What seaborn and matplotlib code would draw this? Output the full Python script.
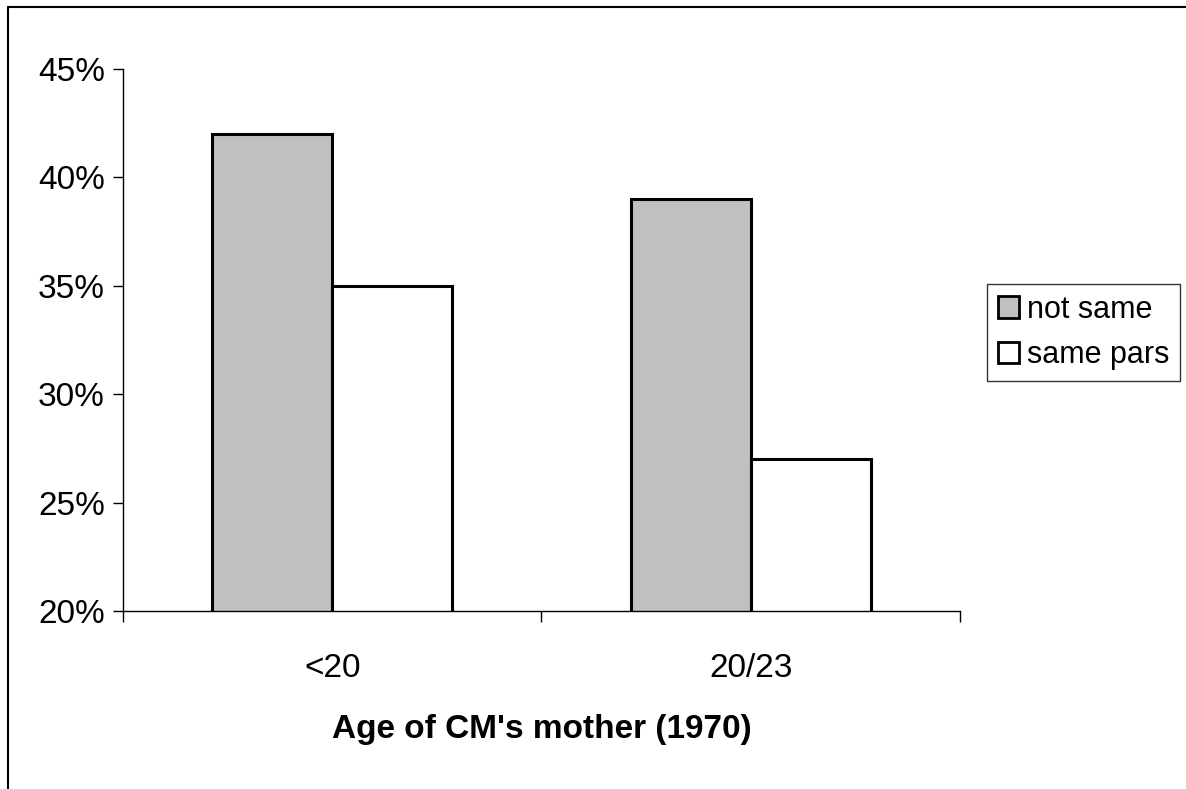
import matplotlib
matplotlib.use("Agg")
import matplotlib.pyplot as plt
from matplotlib.lines import Line2D
from matplotlib.ticker import FixedLocator, PercentFormatter
import seaborn as sns
import pandas as pd

# data
ages = ["<20", "20/23"]
groups = ["not same", "same pars"]
not_same = [42, 39]
same_pars = [35, 27]
yticks = [20, 25, 30, 35, 40, 45]

df = pd.DataFrame({
    "age": ages * 2,
    "group": [groups[0]] * len(ages) + [groups[1]] * len(ages),
    "pct": not_same + same_pars,
})

sns.set_style("white")
plt.rcParams["font.family"] = ["Liberation Sans", "DejaVu Sans"]
plt.rcParams["text.color"] = "black"
plt.rcParams["axes.labelcolor"] = "black"
plt.rcParams["xtick.color"] = "black"
plt.rcParams["ytick.color"] = "black"

fig = plt.figure(figsize=(11.86, 7.89), dpi=100)
ax = fig.add_axes([0.1037, 0.2256, 0.7057, 0.6869])

sns.barplot(
    data=df, x="age", y="pct", hue="group",
    palette=["#c0c0c0", "#ffffff"],
    edgecolor="black", linewidth=2.2,
    width=0.574, gap=0, ax=ax,
)

ax.set_ylim(20, 45)
ax.set_xlim(-0.5, 1.5)
ax.set_yticks(yticks)
ax.yaxis.set_major_formatter(PercentFormatter(decimals=0))
ax.tick_params(axis="y", labelsize=24, length=7, width=1, color="black",
               direction="out", left=True, pad=6)

# category labels on minor ticks, separator ticks on major
ax.xaxis.set_major_locator(FixedLocator([-0.5, 0.5, 1.5]))
ax.xaxis.set_minor_locator(FixedLocator([0, 1]))
ax.set_xticklabels([], minor=False)
ax.set_xticklabels(ages, minor=True)
ax.tick_params(axis="x", which="major", length=8, width=1, color="black",
               direction="out", bottom=True)
ax.tick_params(axis="x", which="minor", length=0, labelsize=24, pad=30)

for side in ["top", "right"]:
    ax.spines[side].set_visible(False)
for side in ["left", "bottom"]:
    ax.spines[side].set_color("black")
    ax.spines[side].set_linewidth(1)

ax.set_ylabel("")
ax.set_xlabel("Age of CM's mother (1970)", fontsize=24, fontweight="bold",
              labelpad=22)

leg = ax.legend(
    loc="upper left", bbox_to_anchor=(987 / 1186, 1 - 284 / 789),
    bbox_transform=fig.transFigure, fontsize=22, frameon=True,
    fancybox=False, handlelength=0.7, handleheight=0.7, handletextpad=0.25,
    borderpad=0.35, labelspacing=0.5, borderaxespad=0,
)
leg.get_frame().set_edgecolor("black")
leg.get_frame().set_linewidth(1)
for h in leg.legend_handles:
    h.set_linewidth(2)

# chart frame (only top and left show in the image)
fig.add_artist(Line2D([8 / 1186, 1], [1 - 7 / 789, 1 - 7 / 789],
                      transform=fig.transFigure, color="black", lw=1.5))
fig.add_artist(Line2D([8 / 1186, 8 / 1186], [0, 1 - 7 / 789],
                      transform=fig.transFigure, color="black", lw=1.5))

fig.savefig("out.png", dpi=100)
